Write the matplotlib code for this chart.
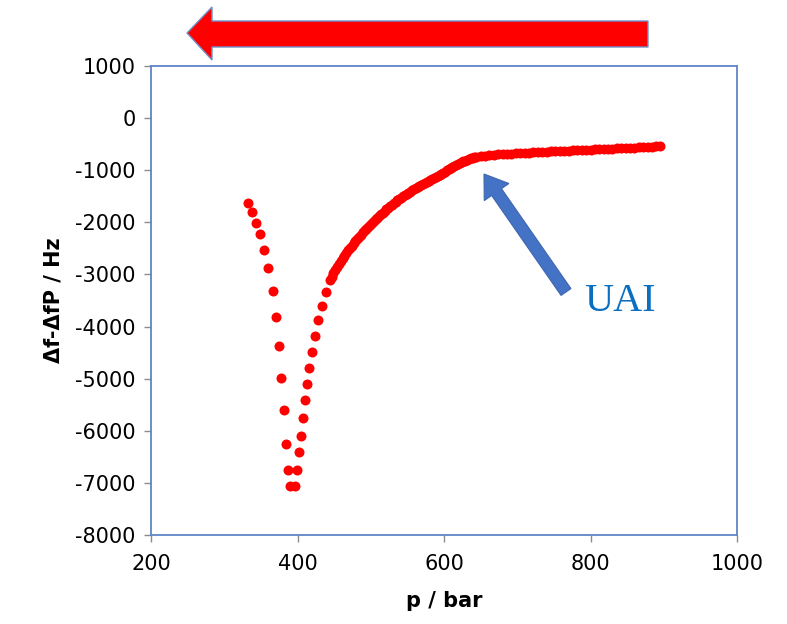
import matplotlib.pyplot as plt
from matplotlib.patches import Polygon, FancyArrow
from matplotlib.transforms import Affine2D

plt.rcParams['axes.unicode_minus'] = False

# branche gauche (points espaces)
p_gauche = [332, 338, 343, 349, 354, 360, 366, 371, 375, 378, 382, 384, 387, 390, 397]
df_gauche = [-1635, -1807, -2007, -2230, -2531, -2882, -3318, -3817, -4373,
             -4987, -5601, -6254, -6753, -7060, -7060]

# branche droite (remontee puis plateau)
p_droite = [399, 402, 405, 407.5, 410, 413, 416, 420, 424, 428, 433, 439,
            444, 446.5, 449, 451.5, 454, 456.5, 459, 461.5, 464, 466.5, 469,
            471.5, 474, 476.5, 479, 481.5, 484, 486.5, 489, 491.5, 494, 496.5,
            499, 501.5, 504, 506.5, 509, 511.5, 514, 516.5, 519, 521.5, 524,
            526.5, 529, 531.5, 534, 536.5, 539, 541.5, 544, 546.5, 549, 551.5,
            554, 556.5, 559, 561.5, 564, 566.5, 569, 571.5, 574, 576.5, 579,
            581.5, 584, 586.5, 589, 591.5, 594, 596.5, 599, 601.5, 604, 606.5,
            609, 611.5, 614, 616.5, 619, 621.5, 624, 626.5, 629, 631.5, 634,
            636.5, 639, 641.5, 644,
            650, 656, 662, 668, 674, 680, 686, 692, 698, 704, 710, 716, 722, 728,
            734, 740, 746, 752, 758, 764, 770, 776, 782, 788, 794, 800, 806, 812,
            818, 824, 830, 836, 842, 848, 854, 860, 866, 872, 878, 884, 890, 895]
df_droite = [-6753, -6407, -6100, -5755, -5410, -5100, -4795, -4490, -4180, -3875,
             -3605, -3337,
             -3107, -3040, -2980, -2920, -2860, -2800, -2745, -2690, -2640, -2590,
             -2540, -2490, -2445, -2400, -2360, -2315, -2275, -2235, -2195, -2155,
             -2120, -2085, -2050, -2015, -1980, -1945, -1910, -1878, -1845, -1812,
             -1780, -1750, -1720, -1692, -1665, -1635, -1605, -1578, -1550, -1525,
             -1500, -1478, -1455, -1432, -1410, -1388, -1365, -1345, -1325, -1305,
             -1285, -1265, -1245, -1225, -1205, -1185, -1165, -1145, -1125, -1105,
             -1085, -1065, -1045, -1025, -1005, -985, -965, -945, -925, -905, -885,
             -868, -850, -832, -815, -800, -785, -772, -760, -752, -745,
             -735, -725, -715, -705, -698, -692, -686, -680, -675, -670, -665,
             -661, -657, -652, -648, -644, -640, -636, -632, -628, -624, -620,
             -616, -612, -608, -604, -600, -596, -592, -588, -584, -580, -576,
             -572, -568, -564, -560, -556, -552, -548, -544, -540]

x_ticks = [200, 400, 600, 800, 1000]
y_ticks = list(range(-8000, 1001, 1000))

W, H = 787, 624
fig = plt.figure(figsize=(W / 100, H / 100), dpi=100)
ax = fig.add_axes([151 / W, 1 - 535 / H, (737 - 151) / W, (535 - 66) / H])

ax.plot(p_gauche + p_droite, df_gauche + df_droite, 'o', color='#ff0000',
        markersize=7.2, markeredgewidth=0)

ax.set_xlim(200, 1000)
ax.set_ylim(-8000, 1000)
ax.set_xticks(x_ticks)
ax.set_yticks(y_ticks)
ax.tick_params(direction='out', length=5, width=1, color='#8c8c8c',
               labelsize=15, pad=6)
ax.tick_params(axis='x', pad=9)
for s in ax.spines.values():
    s.set_color('#5f86c6')
    s.set_linewidth(1.3)

ax.set_xlabel('p / bar', fontsize=15, fontweight='bold', labelpad=12)
ax.set_ylabel('Δf-ΔfP / Hz', fontsize=15, fontweight='bold', labelpad=8)

# coordonnees en pixels (origine en haut a gauche)
px = Affine2D().scale(1, -1).translate(0, H).scale(0.01) + fig.dpi_scale_trans

# grande fleche rouge en haut
fleche = Polygon([(648, 21), (212, 21), (212, 7), (187, 33), (212, 60),
                  (212, 47), (648, 47)], closed=True, facecolor='#ff0000',
                 edgecolor='#6f92cc', linewidth=1, transform=px)
fig.patches.append(fleche)

# fleche bleue UAI
uai = FancyArrow(566, 292, -82, -118, width=12, head_width=30, head_length=22,
                 length_includes_head=True, facecolor='#4472c4',
                 edgecolor='#3f66b0', linewidth=0.8, transform=px)
fig.patches.append(uai)

fig.text(584 / W, 1 - 311 / H, 'UAI', fontsize=29, color='#0a6fc0',
         family='Liberation Serif', ha='left', va='baseline')

fig.savefig('out.png', dpi=100)
